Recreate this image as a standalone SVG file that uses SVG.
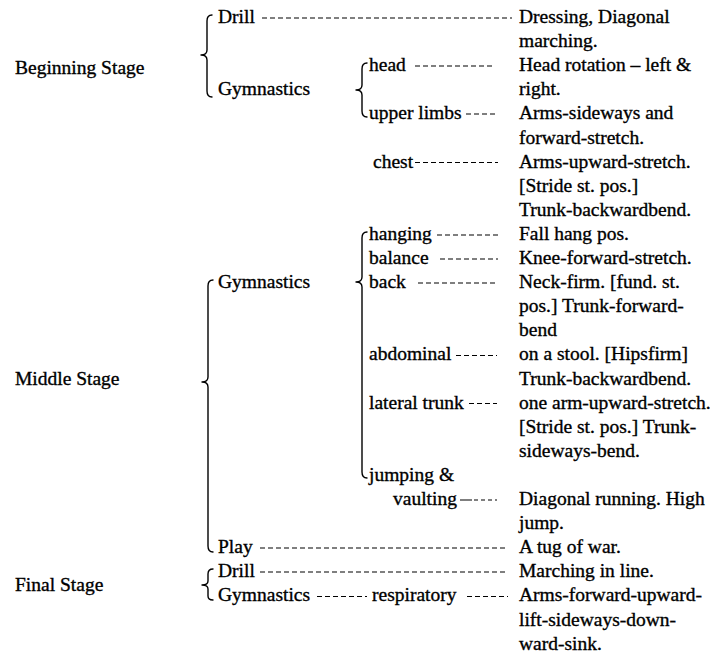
<svg xmlns="http://www.w3.org/2000/svg" width="717" height="653" viewBox="0 0 717 653">
<style>
text{font-family:"Liberation Serif","Times New Roman",serif;font-size:19.5px;fill:#000;stroke:#000;stroke-width:0.35}
.brace{fill:none;stroke:#000;stroke-width:1.4;stroke-linecap:round;stroke-linejoin:round}
.dash{stroke:#000;stroke-width:1.1;stroke-dasharray:5 3}
</style>
<rect width="717" height="653" fill="#fff"/>
<g id="connectors">
<line class="dash" x1="262" y1="18" x2="512" y2="18"/>
<line class="dash" x1="415" y1="66" x2="495" y2="66"/>
<line class="dash" x1="466" y1="114" x2="497" y2="114"/>
<line class="dash" x1="415" y1="162.5" x2="498" y2="162.5"/>
<line class="dash" x1="437" y1="235" x2="498" y2="235"/>
<line class="dash" x1="440" y1="259" x2="498" y2="259"/>
<line class="dash" x1="418" y1="283" x2="495" y2="283"/>
<line class="dash" x1="456" y1="355.5" x2="497" y2="355.5"/>
<line class="dash" x1="469" y1="403.5" x2="497" y2="403.5"/>
<line class="dash" x1="460" y1="500" x2="497" y2="500" style="stroke-dasharray:12 2 4 3 4 3 4 3 4 3"/>
<line class="dash" x1="260" y1="548" x2="508" y2="548"/>
<line class="dash" x1="260" y1="572" x2="508" y2="572"/>
<line class="dash" x1="317" y1="596.5" x2="367" y2="596.5"/>
<line class="dash" x1="467" y1="596.5" x2="508" y2="596.5"/>
</g>
<g id="beginning-stage">
<text x="15" y="74">Beginning Stage</text>
<path class="brace" d="M212,15 Q207,15 207,21 L207,50 Q207,55 201,55 Q207,55 207,60 L207,91 Q207,97 212,97"/>
</g>
<g id="b-drill"><text x="218" y="23">Drill</text></g>
<g id="b-drill-desc"><text x="519" y="23">Dressing, Diagonal</text><text x="519" y="47">marching.</text></g>
<g id="b-gymnastics">
<text x="218" y="95.3">Gymnastics</text>
<path class="brace" d="M367,63 Q362,63 362,69 L362,85 Q362,90 356,90 Q362,90 362,95 L362,111 Q362,117 367,117"/>
</g>
<g id="b-head"><text x="369" y="71">head</text></g>
<g id="b-head-desc"><text x="519" y="71">Head rotation – left &amp;</text><text x="519" y="95.3">right.</text></g>
<g id="b-upper"><text x="369" y="119.4">upper limbs</text></g>
<g id="b-upper-desc"><text x="519" y="119.4">Arms-sideways and</text><text x="519" y="143.5">forward-stretch.</text></g>
<g id="b-chest"><text x="373" y="167.6">chest</text></g>
<g id="b-chest-desc"><text x="519" y="167.6">Arms-upward-stretch.</text><text x="519" y="191.7">[Stride st. pos.]</text><text x="519" y="215.8">Trunk-backwardbend.</text></g>
<g id="middle-stage">
<text x="15" y="385">Middle Stage</text>
<path class="brace" d="M213,280 Q208,280 208,286 L208,377 Q208,382 202,382 Q208,382 208,387 L208,546 Q208,552 213,552"/>
</g>
<g id="m-gymnastics">
<text x="218" y="288.1">Gymnastics</text>
<path class="brace" d="M367,232 Q362,232 362,238 L362,277 Q362,282 356,282 Q362,282 362,287 L362,472 Q362,478 367,478"/>
</g>
<g id="m-hanging"><text x="369" y="239.9">hanging</text></g>
<g id="m-hanging-desc"><text x="519" y="239.9">Fall hang pos.</text></g>
<g id="m-balance"><text x="369" y="264">balance</text></g>
<g id="m-balance-desc"><text x="519" y="264">Knee-forward-stretch.</text></g>
<g id="m-back"><text x="369" y="288.1">back</text></g>
<g id="m-back-desc"><text x="519" y="288.1">Neck-firm. [fund. st.</text><text x="519" y="312.2">pos.] Trunk-forward-</text><text x="519" y="336.3">bend</text></g>
<g id="m-abdominal"><text x="369" y="360.4">abdominal</text></g>
<g id="m-abdominal-desc"><text x="519" y="360.4">on a stool.  [Hipsfirm]</text><text x="519" y="384.5">Trunk-backwardbend.</text></g>
<g id="m-lateral"><text x="369" y="408.6">lateral trunk</text></g>
<g id="m-lateral-desc"><text x="519" y="408.6">one arm-upward-stretch.</text><text x="519" y="432.7">[Stride st. pos.] Trunk-</text><text x="519" y="456.8">sideways-bend.</text></g>
<g id="m-jumping"><text x="369" y="480.9">jumping &amp;</text><text x="393" y="505">vaulting</text></g>
<g id="m-jumping-desc"><text x="519" y="505">Diagonal running. High</text><text x="519" y="529.1">jump.</text></g>
<g id="m-play"><text x="218" y="553.2">Play</text></g>
<g id="m-play-desc"><text x="519" y="553.2">A tug of war.</text></g>
<g id="final-stage">
<text x="15" y="591">Final Stage</text>
<path class="brace" d="M213,569 Q208,569 208,574 L208,581 Q208,585 202,585 Q208,585 208,589 L208,596 Q208,600 213,600"/>
</g>
<g id="f-drill"><text x="218" y="577.3">Drill</text></g>
<g id="f-drill-desc"><text x="519" y="577.3">Marching in line.</text></g>
<g id="f-gymnastics"><text x="218" y="601.4">Gymnastics</text></g>
<g id="f-respiratory"><text x="372" y="601.4">respiratory</text></g>
<g id="f-respiratory-desc"><text x="519" y="601.4">Arms-forward-upward-</text><text x="519" y="625.5">lift-sideways-down-</text><text x="519" y="649.6">ward-sink.</text></g>
</svg>
